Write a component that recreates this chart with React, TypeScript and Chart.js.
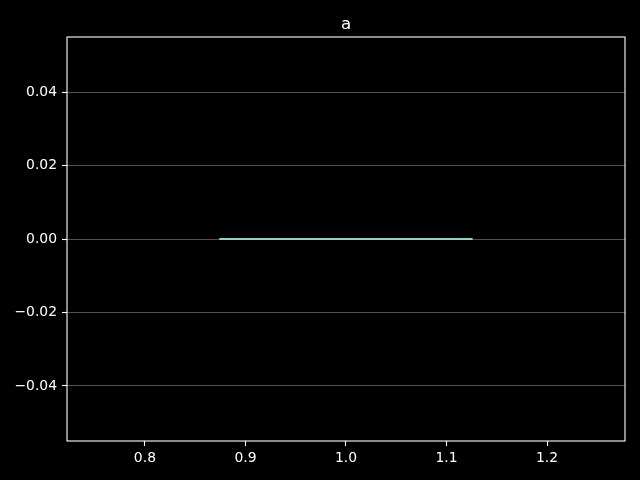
import React, { useEffect, useRef } from "react";
import { Chart, registerables } from "chart.js";

Chart.register(...registerables);

const titleText = "a";
const xValues = [0.875, 1.125];
const yValues = [0, 0];
const xTicks = [0.8, 0.9, 1.0, 1.1, 1.2];
const yTicks = [-0.04, -0.02, 0.0, 0.02, 0.04];
const xRange = [0.7225, 1.2775];
const yRange = [-0.055, 0.055];

const FONT = "'DejaVu Sans', sans-serif";

const framePlugin = {
  id: "frame",
  beforeDraw(chart: any) {
    const { ctx } = chart;
    ctx.save();
    ctx.fillStyle = "#000000";
    ctx.fillRect(0, 0, chart.width, chart.height);
    ctx.restore();
  },
  afterDraw(chart: any) {
    const { ctx, chartArea: a } = chart;
    ctx.save();
    ctx.strokeStyle = "#ffffff";
    ctx.lineWidth = 1.1;
    ctx.strokeRect(a.left, a.top, a.right - a.left, a.bottom - a.top);
    ctx.fillStyle = "#ffffff";
    ctx.font = `16.67px ${FONT}`;
    ctx.textAlign = "center";
    ctx.textBaseline = "alphabetic";
    ctx.fillText(titleText, (a.left + a.right) / 2, a.top - 8);
    ctx.restore();
  },
};

const fmt = (v: number, d: number) => v.toFixed(d).replace("-", "\u2212");

export default function App() {
  const ref = useRef<HTMLCanvasElement>(null);
  useEffect(() => {
    document.body.style.margin = "0";
    document.body.style.background = "#000";
    const chart = new Chart(ref.current!, {
      type: "line",
      data: {
        datasets: [
          {
            data: xValues.map((x, i) => ({ x, y: yValues[i] })),
            borderColor: "#8dd3c7",
            borderWidth: 2,
            borderCapStyle: "square",
            pointRadius: 0,
            fill: false,
          },
        ],
      },
      options: {
        animation: false,
        responsive: false,
        maintainAspectRatio: false,
        layout: { padding: { left: 0, right: 15, top: 37, bottom: 0 } },
        plugins: {
          legend: { display: false },
          tooltip: { enabled: false },
          title: { display: false },
        },
        scales: {
          x: {
            type: "linear",
            min: xRange[0],
            max: xRange[1],
            afterBuildTicks: (s: any) => {
              s.ticks = xTicks.map((v) => ({ value: v }));
            },
            afterFit: (s: any) => {
              s.height = 39;
            },
            border: { display: false },
            grid: {
              drawOnChartArea: false,
              drawTicks: true,
              tickLength: 5,
              tickColor: "#ffffff",
              tickWidth: 1.1,
            },
            ticks: {
              color: "#ffffff",
              padding: 4,
              maxRotation: 0,
              autoSkip: false,
              font: { family: FONT, size: 13.9 },
              callback: (v: any) => fmt(Number(v), 1),
            },
          },
          y: {
            type: "linear",
            min: yRange[0],
            max: yRange[1],
            afterBuildTicks: (s: any) => {
              s.ticks = yTicks.map((v) => ({ value: v }));
            },
            afterFit: (s: any) => {
              s.width = 67;
            },
            border: { display: false },
            grid: {
              drawOnChartArea: true,
              drawTicks: true,
              tickLength: 5,
              color: "rgba(255,255,255,0.4)",
              lineWidth: 0.8,
              tickColor: "#ffffff",
              tickWidth: 1.1,
            },
            ticks: {
              color: "#ffffff",
              padding: 5,
              autoSkip: false,
              font: { family: FONT, size: 13.9 },
              callback: (v: any) => fmt(Number(v), 2),
            },
          },
        },
      },
      plugins: [framePlugin],
    });
    return () => chart.destroy();
  }, []);
  return (
    <div style={{ width: 640, height: 480 }}>
      <canvas ref={ref} width={640} height={480} style={{ display: "block" }} />
    </div>
  );
}
